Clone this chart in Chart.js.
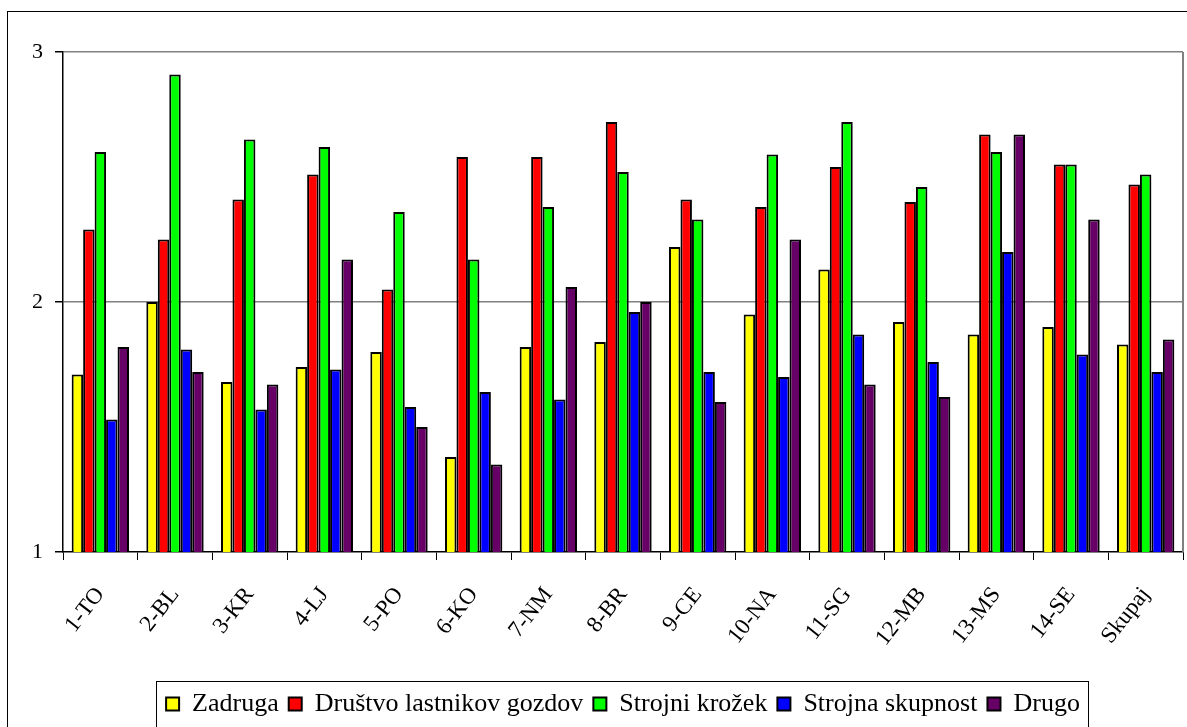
<!DOCTYPE html>
<html>
<head>
<meta charset="utf-8">
<script src="https://cdn.jsdelivr.net/npm/chart.js@4/dist/chart.umd.min.js"></script>
<style>
  body { margin: 0; background: #fff; }
  #wrap { width: 1187px; height: 727px; }
</style>
</head>
<body>
<div id="wrap"><canvas id="chart1"></canvas></div>
<script>
// data
const categories = ['1-TO', '2-BL', '3-KR', '4-LJ', '5-PO', '6-KO', '7-NM', '8-BR', '9-CE', '10-NA', '11-SG', '12-MB', '13-MS', '14-SE', 'Skupaj'];
const zadruga = [1.71, 2.00, 1.68, 1.74, 1.80, 1.38, 1.82, 1.84, 2.22, 1.95, 2.13, 1.92, 1.87, 1.90, 1.83];
const drustvo = [2.29, 2.25, 2.41, 2.51, 2.05, 2.58, 2.58, 2.72, 2.41, 2.38, 2.54, 2.40, 2.67, 2.55, 2.47];
const krozek = [2.60, 2.91, 2.65, 2.62, 2.36, 2.17, 2.38, 2.52, 2.33, 2.59, 2.72, 2.46, 2.60, 2.55, 2.51];
const skupnost = [1.53, 1.81, 1.57, 1.73, 1.58, 1.64, 1.61, 1.96, 1.72, 1.70, 1.87, 1.76, 2.20, 1.79, 1.72];
const drugo = [1.82, 1.72, 1.67, 2.17, 1.50, 1.35, 2.06, 2.00, 1.60, 2.25, 1.67, 1.62, 2.67, 2.33, 1.85];
const yMin = 1, yMax = 3, yStep = 1;

const serif = 'Liberation Serif';

// frame round the whole chart, right edge of plot, box round legend
const framePlugin = {
  id: 'frames',
  afterLayout(chart) {
    // legend sits centred under the plot, not the canvas
    const a = chart.chartArea;
    const lg = chart.legend;
    const shift = (a.left + a.right) / 2 - (lg.left + lg.right) / 2;
    lg.left += shift;
    lg.right += shift;
  },
  beforeDraw(chart) {
    const ctx = chart.ctx;
    ctx.save();
    ctx.fillStyle = '#fff';
    ctx.fillRect(0, 0, chart.width, chart.height);
    ctx.strokeStyle = '#000';
    ctx.lineWidth = 1;
    ctx.strokeRect(7.5, 11.5, 1400, 900);
    ctx.restore();
  },
  beforeDatasetsDraw(chart) {
    const a = chart.chartArea;
    const ctx = chart.ctx;
    ctx.save();
    ctx.strokeStyle = '#808080';
    ctx.lineWidth = 2;
    ctx.beginPath();
    ctx.moveTo(a.right, a.top);
    ctx.lineTo(a.right, a.bottom);
    ctx.stroke();
    ctx.restore();
  },
  afterDraw(chart) {
    const hb = chart.legend.legendHitBoxes;
    if (!hb || !hb.length) return;
    const left = Math.min(...hb.map(h => h.left));
    const right = Math.max(...hb.map(h => h.left + h.width));
    const top = hb[0].top;
    const ctx = chart.ctx;
    ctx.save();
    ctx.strokeStyle = '#000';
    ctx.lineWidth = 1;
    ctx.strokeRect(Math.round(left - 10) + 0.5, Math.round(top - 10) + 0.5, Math.round(right - left + 18), 48);
    ctx.restore();
  }
};

function ds(label, data, color) {
  return {
    label: label,
    data: data,
    backgroundColor: color,
    borderColor: '#000',
    borderWidth: 2,
    categoryPercentage: 0.768,
    barPercentage: 1.0
  };
}

var ctx = document.getElementById('chart1').getContext('2d');
var chart = new Chart(ctx, {
  type: 'bar',
  data: {
    labels: categories,
    datasets: [
      ds('Zadruga', zadruga, '#FFFF00'),
      ds('Društvo lastnikov gozdov', drustvo, '#FF0000'),
      ds('Strojni krožek', krozek, '#00FF00'),
      ds('Strojna skupnost', skupnost, '#0000FF'),
      ds('Drugo', drugo, '#660066')
    ]
  },
  options: {
    responsive: true,
    maintainAspectRatio: false,
    animation: false,
    layout: {
      padding: { left: 23, right: 4, top: 52, bottom: 0 }
    },
    plugins: {
      title: { display: false },
      tooltip: { enabled: false },
      legend: {
        position: 'bottom',
        labels: {
          boxWidth: 13,
          boxHeight: 13,
          padding: 10,
          color: '#000',
          font: { family: serif, size: 26 }
        }
      }
    },
    scales: {
      x: {
        afterFit: (scale) => {
          scale.height = 129;
          scale.paddingLeft = 0;
          scale.paddingRight = 0;
        },
        grid: {
          offset: true,
          drawOnChartArea: false,
          tickLength: 8,
          tickColor: '#000'
        },
        border: { color: '#000', width: 1.5 },
        ticks: {
          color: '#000',
          maxRotation: 52,
          minRotation: 52,
          padding: 22,
          autoSkip: false,
          font: { family: serif, size: 23 }
        }
      },
      y: {
        min: yMin,
        max: yMax,
        afterFit: (scale) => { scale.width = 40; },
        grid: {
          color: (c) => (c.tick && c.tick.value === yMin) ? 'rgba(0,0,0,0)' : '#808080',
          lineWidth: 1.5,
          tickLength: 8,
          tickColor: '#000'
        },
        border: { color: '#000', width: 1.5 },
        ticks: {
          stepSize: yStep,
          color: '#000',
          padding: 12,
          font: { family: serif, size: 22 }
        }
      }
    }
  },
  plugins: [framePlugin]
});
</script>
</body>
</html>
